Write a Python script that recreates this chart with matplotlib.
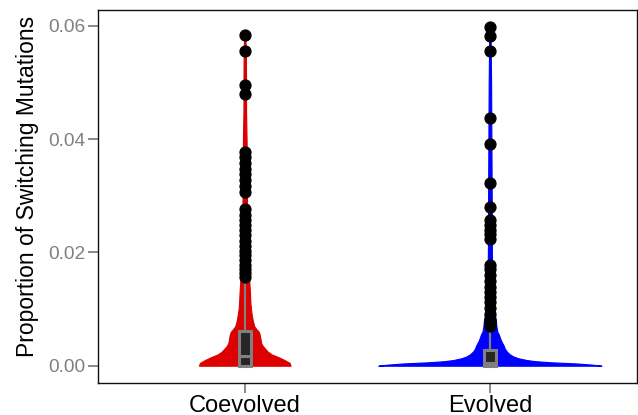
import matplotlib
matplotlib.use("Agg")
import matplotlib.pyplot as plt
import numpy as np

plt.rcParams['font.family'] = ['Liberation Sans', 'DejaVu Sans']

### groups
groups = ['Coevolved', 'Evolved']
colors = ['#dc0000', '#0000ff']

### violin outlines (value, relative density)
coev_y = [0.0, 0.0005, 0.001, 0.0015, 0.002, 0.0025, 0.003, 0.0035, 0.004, 0.0045,
          0.005, 0.0055, 0.006, 0.0065, 0.007, 0.008, 0.009, 0.010, 0.011, 0.013,
          0.015, 0.017, 0.020, 0.025, 0.030, 0.035, 0.040, 0.045, 0.050, 0.055, 0.0584]
coev_d = [46, 45, 40, 34, 27, 23, 20.5, 18, 16.5, 16,
          15.5, 15, 14, 11.5, 9.5, 8, 7, 6.2, 5.7, 5.2,
          4.5, 3.5, 2.8, 2.5, 2.2, 2.2, 1.8, 1.3, 1.3, 1.1, 0.6]

evo_y = [0.0, 0.0001, 0.0002, 0.0003, 0.0004, 0.0005, 0.0006, 0.0008, 0.001, 0.0013,
         0.0016, 0.002, 0.0025, 0.003, 0.0035, 0.004, 0.0045, 0.005, 0.0055, 0.006,
         0.007, 0.008, 0.009, 0.010, 0.012, 0.015, 0.020, 0.030, 0.040, 0.050, 0.0598]
evo_d = [112, 108, 102, 95, 87, 75, 62, 46, 37, 29,
         24, 20, 17, 15, 14, 12.5, 11, 10, 9, 7.5,
         6.5, 6, 5, 4, 3, 2.5, 2, 1.8, 1.5, 1.2, 0.6]

### boxplot summaries
q1 = [0.0, 0.0]
med = [0.0017, 0.0005]
q3 = [0.0062, 0.0027]
whis_hi = [0.0151, 0.0068]

### outliers
coev_out = [0.0584, 0.0555, 0.0495, 0.0479,
            0.0378, 0.0368, 0.0358, 0.0348, 0.0338, 0.0328, 0.0318, 0.0307,
            0.0276, 0.0266, 0.0257, 0.0248, 0.0240, 0.0230, 0.0221, 0.0212,
            0.0203, 0.0195, 0.0186, 0.0178, 0.0170, 0.0163, 0.0157]
evo_out = [0.0598, 0.0582, 0.0555, 0.0438, 0.0392, 0.0323, 0.0280,
           0.0257, 0.0249, 0.0240, 0.0232, 0.0224,
           0.0177, 0.0170, 0.0160, 0.0150, 0.0139, 0.0130, 0.0122, 0.0112,
           0.0102, 0.0092, 0.0081, 0.0075, 0.0070]

fig = plt.figure(figsize=(6.38, 4.15), dpi=100)
ax = fig.add_axes([0.1531, 0.0778, 0.8453, 0.8981])

dens_scale = 0.455 / 112  # widest violin -> 0.455 category units
profiles = [(coev_y, coev_d), (evo_y, evo_d)]
for i, (yy, dd) in enumerate(profiles):
    pos = i + 1
    hw = np.array(dd) * dens_scale
    ax.fill_betweenx(yy, pos - hw, pos + hw, color=colors[i], lw=0.8, zorder=1)

stats = []
fliers = [coev_out, evo_out]
for i in range(2):
    stats.append(dict(med=med[i], q1=q1[i], q3=q3[i], whislo=q1[i],
                      whishi=whis_hi[i], fliers=fliers[i]))

ax.bxp(stats, positions=[1, 2], widths=0.05, patch_artist=True,
       showcaps=False,
       boxprops=dict(facecolor='#262626', edgecolor='#808080', linewidth=2.2),
       medianprops=dict(color='#808080', linewidth=2.2),
       whiskerprops=dict(color='#808080', linewidth=1.6),
       flierprops=dict(marker='o', markerfacecolor='black', markeredgecolor='black',
                       markersize=7.8),
       zorder=3)

ax.set_xlim(0.4, 2.6)
ax.set_ylim(-0.003, 0.0628)
ax.set_xticks([1, 2])
ax.set_xticklabels(groups, fontsize=17, color='black')
ax.set_yticks([0.0, 0.02, 0.04, 0.06])
ax.set_yticklabels(['0.00', '0.02', '0.04', '0.06'], fontsize=13.8, color='#808080')
ax.tick_params(axis='both', length=7, width=1.3, color='#808080', pad=1.5)
ax.set_ylabel('Proportion of Switching Mutations', fontsize=16.5)
ax.yaxis.set_label_coords(-0.108, 0.527)
for s in ax.spines.values():
    s.set_color('#111111')
    s.set_linewidth(1.0)

fig.savefig('out.png', dpi=100)
